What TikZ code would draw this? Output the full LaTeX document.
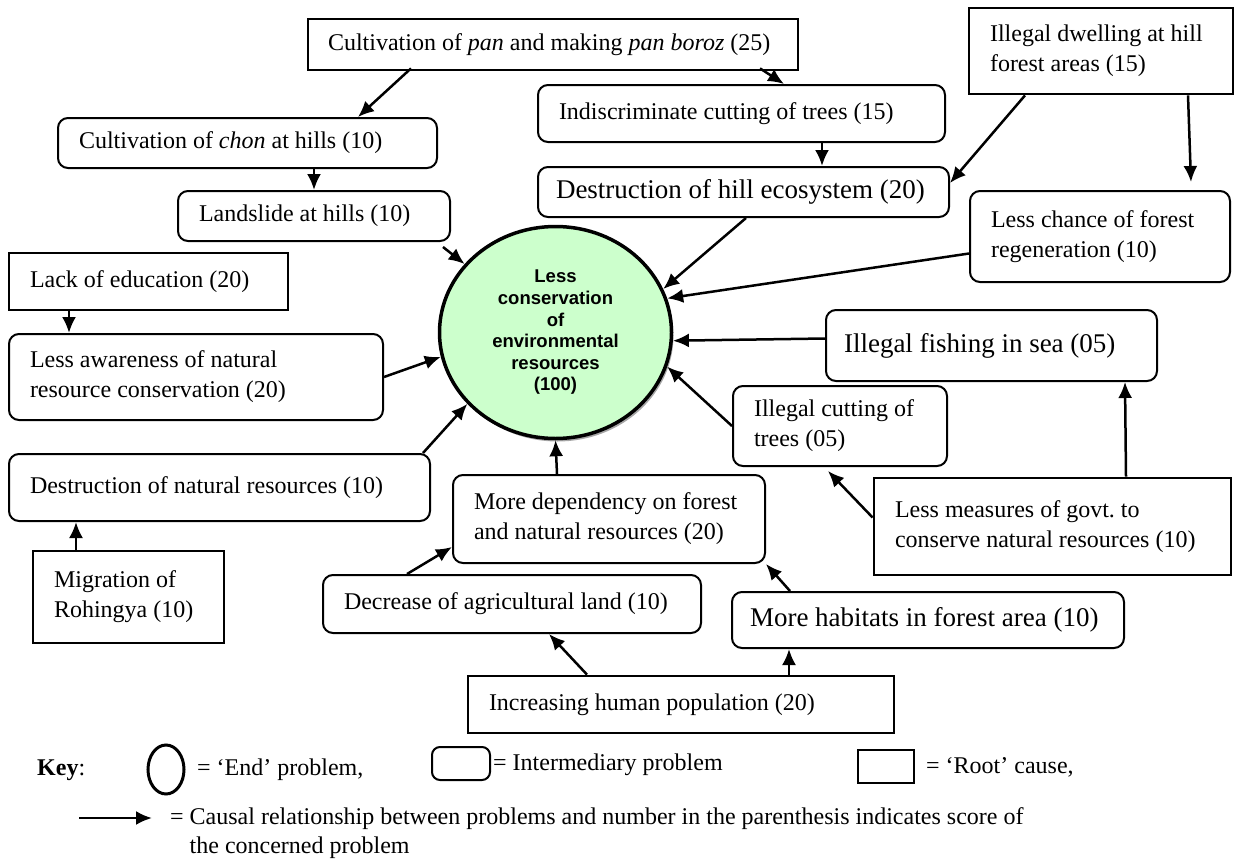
\documentclass[tikz,border=0pt]{standalone}
\usepackage{fontspec}
\setmainfont{Liberation Serif}
\setsansfont{Liberation Sans}
\usepackage{xcolor}
\usepackage{tikz}
\usetikzlibrary{arrows.meta}
\usetikzlibrary{shapes.geometric}
\usetikzlibrary{shadows}
\definecolor{endgreen}{HTML}{CCFFCC}
\newcommand{\txtsz}{\fontsize{24}{30}\selectfont}
\newcommand{\bigsz}{\fontsize{27}{32}\selectfont}
\newcommand{\circsz}{\fontsize{18.5}{21.6}\selectfont\sffamily\bfseries}
\newcommand{\keysz}{\fontsize{24}{29}\selectfont}

\begin{document}
\begin{tikzpicture}[x=1pt,y=-1pt,
	root/.style={draw,line width=2.8pt,align=flush left,inner xsep=21pt,inner ysep=2pt,font=\txtsz},
	inter/.style={draw,line width=2pt,rounded corners=10pt,align=flush left,inner xsep=21pt,inner ysep=2pt,font=\txtsz},
	bigtext/.style={font=\bigsz,inner xsep=18pt},
	endprob/.style={ellipse,draw,line width=3.5pt,fill=endgreen,inner sep=0pt,align=center,font=\circsz},
	keytext/.style={font=\keysz,inner sep=0pt,anchor=west,align=left},
	cause/.style={-{Latex[length=16pt,width=14pt]},line width=2.5pt}]
	\useasboundingbox (0,0) rectangle (1234,859);
	% root causes
	\node[root,inner xsep=20pt,text width=450pt,minimum height=51pt] (pan) at (553,44.5) {Cultivation of \textit{pan} and making \textit{pan boroz} (25)};
	\node[root,text width=222pt,minimum height=86pt] (dwell) at (1101,51) {Illegal dwelling at hill\\forest areas (15)};
	\node[root,text width=237pt,minimum height=57pt] (educ) at (148.5,281.5) {Lack of education (20)};
	\node[root,text width=149pt,minimum height=92pt] (migr) at (128.5,597) {Migration of\\Rohingya (10)};
	\node[root,text width=384pt,minimum height=57pt] (human) at (681,704.5) {Increasing human population (20)};
	\node[root,text width=315pt,minimum height=97pt] (govt) at (1052.5,526.5) {Less measures of govt.\ to\\conserve natural resources (10)};
	% intermediary problems
	\node[inter,text width=337pt,minimum height=50pt] (chon) at (247.5,143) {Cultivation of \textit{chon} at hills (10)};
	\node[inter,text width=230pt,minimum height=50pt] (landslide) at (314,216) {Landslide at hills (10)};
	\node[inter,text width=365pt,minimum height=57pt] (indiscr) at (741.5,113.5) {Indiscriminate cutting of trees (15)};
	\node[inter,bigtext,text width=375pt,minimum height=50pt] (hilleco) at (743.5,192) {Destruction of hill ecosystem (20)};
	\node[inter,text width=218pt,minimum height=91pt] (regen) at (1100,236.5) {Less chance of forest\\regeneration (10)};
	\node[inter,bigtext,text width=295pt,minimum height=71pt] (fish) at (991.5,345.5) {Illegal fishing in sea (05)};
	\node[inter,text width=172pt,minimum height=80pt] (cut) at (840,426) {Illegal cutting of\\trees (05)};
	\node[inter,text width=332pt,minimum height=86pt] (aware) at (196,377) {Less awareness of natural\\resource conservation (20)};
	\node[inter,text width=379pt,minimum height=67pt] (natres) at (219.5,487.5) {Destruction of natural resources (10)};
	\node[inter,text width=270pt,minimum height=88pt] (depend) at (609,519) {More dependency on forest\\and natural resources (20)};
	\node[inter,text width=336pt,minimum height=58pt] (agri) at (512,604) {Decrease of agricultural land (10)};
	\node[inter,bigtext,text width=356pt,minimum height=56pt] (habit) at (928,620) {More habitats in forest area (10)};
	% end problem
	\node[endprob,minimum width=232pt,minimum height=212pt,drop shadow={shadow xshift=2pt,shadow yshift=-3pt,fill=black!35,opacity=1}] (circ) at (555.5,332.5) {Less\\conservation\\of\\environmental\\resources\\(100)};
	% causal links
	\draw[cause] ([xshift=-142pt,yshift=3pt]pan.south) -- ([xshift=110.5pt]chon.north);
	\draw[cause] ([xshift=207pt,yshift=3pt]pan.south) -- ([xshift=42.5pt]indiscr.north);
	\draw[cause] (landslide.north |- chon.south) -- (landslide.north);
	\draw[cause] ([xshift=-8pt,yshift=-5pt]landslide.south east) -- (circ.143);
	\draw[cause] ([xshift=80.5pt]indiscr.south) -- ([xshift=78.5pt]hilleco.north);
	\draw[cause] ([xshift=-76pt]dwell.south) -- ([yshift=9pt]hilleco.east);
	\draw[cause] ([xshift=87pt]dwell.south) -- ([xshift=91pt,yshift=8pt]regen.north);
	\draw[cause] ([xshift=2.5pt]hilleco.south) -- (circ.22);
	\draw[cause] ([yshift=-17pt]regen.west) -- (circ.17);
	\draw[cause] ([yshift=7pt]fish.west) -- (circ.-4);
	\draw[cause] (cut.west) -- (circ.-17);
	\draw[cause] ([yshift=9pt]govt.west) -- ([xshift=-12pt,yshift=-4pt]cut.south);
	\draw[cause] ([xshift=73.5pt]govt.north) -- ([xshift=133.5pt]fish.south);
	\draw[cause] ([xshift=-52pt]depend.north) -- (circ.south);
	\draw[cause] ([xshift=-8pt]natres.north east) -- (circ.-141);
	\draw[cause] (aware.east) -- (circ.192);
	\draw[cause] ([xshift=-79.5pt]educ.south) -- ([xshift=-127pt]aware.north);
	\draw[cause] ([xshift=-52.5pt]migr.north) -- ([xshift=-143.5pt]natres.south);
	\draw[cause] ([xshift=108pt]human.north) -- ([xshift=-139pt]habit.south);
	\draw[cause] ([xshift=-94pt]human.north) -- ([xshift=37pt]agri.south);
	\draw[cause] ([xshift=-138pt]habit.north) -- (depend.south east);
	\draw[cause] ([xshift=-105pt]agri.north) -- ([yshift=-28pt]depend.west);
	% key
	\node[keytext] (keytitle) at (37,770) {\textbf{Key}:};
	\node[ellipse,draw,line width=3pt,minimum width=36pt,minimum height=49pt,inner sep=0pt] (keyend) at (166,769.5) {};
	\node[keytext] (keyendtxt) at (197,770) {= `End' problem,};
	\node[inter,minimum width=58pt,minimum height=33pt,rounded corners=8pt] (keyinter) at (461,763.5) {};
	\node[keytext] (keyintertxt) at (493,765) {= Intermediary problem};
	\node[root,minimum width=56pt,minimum height=33pt] (keyroot) at (886,766.5) {};
	\node[keytext] (keyroottxt) at (926,767) {= `Root' cause,};
	\coordinate (keytail) at (79,818);
	\coordinate (keyhead) at (152,818);
	\draw[cause] (keytail) -- (keyhead);
	\node[keytext] (keycause) at (170,833) {= Causal relationship between problems and number in the parenthesis indicates score of\\\hspace*{19.5pt}the concerned problem};
\end{tikzpicture}
\end{document}
